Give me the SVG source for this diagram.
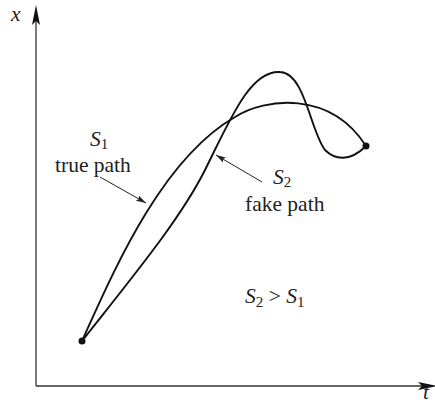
<svg xmlns="http://www.w3.org/2000/svg" width="435" height="406" viewBox="0 0 435 406">
<defs>
<style>
text{font-family:"Liberation Serif","Times New Roman",serif;fill:#222;font-size:21.5px}
.it{font-style:italic}
.sub{font-size:15px}
.axis{stroke:#333;stroke-width:1.3;fill:none}
.curve{stroke:#111;stroke-width:1.9;fill:none}
.ptr{stroke:#222;stroke-width:1;fill:none;marker-end:url(#small)}
</style>
<marker id="small" viewBox="0 0 10 6" refX="10" refY="3" markerWidth="10" markerHeight="6" markerUnits="userSpaceOnUse" orient="auto">
<path d="M0,0 L10,3 L0,6 L2,3 Z" fill="#222"/>
</marker>
</defs>
<g id="axes">
<line class="axis" x1="36" y1="386" x2="36" y2="20"/>
<path d="M36,5 L40,25 L36,21 L32,25 Z" fill="#111"/>
<line class="axis" x1="36" y1="386" x2="422" y2="386"/>
<path d="M438,386 L418,390 L422,386 L418,382 Z" fill="#111"/>
<text class="it" x="11" y="21">x</text>
<text class="it" x="423" y="399">t</text>
</g>
<g id="connectors">
<path id="true-path" class="curve" d="M82,341 C112,275 160,160 235,117 C265,98 330,90 366,146"/>
<path id="fake-path" class="curve" d="M82,341 C130,280 180,220 205,170 C230,120 250,70 280,72 C305,73 310,130 325,150 C335,160 350,162 366,146"/>
<line class="ptr" x1="100" y1="177" x2="146" y2="203"/>
<line class="ptr" x1="262" y1="182" x2="216" y2="155"/>
</g>
<g id="start"><circle cx="82" cy="341" r="3.5" fill="#111"/></g>
<g id="end"><circle cx="366" cy="146" r="3.5" fill="#111"/></g>
<g id="label-s1">
<text x="90" y="146"><tspan class="it">S</tspan><tspan class="sub" dy="3">1</tspan></text>
<text x="55" y="172">true path</text>
</g>
<g id="label-s2">
<text x="273" y="184"><tspan class="it">S</tspan><tspan class="sub" dy="3">2</tspan></text>
<text x="245" y="211">fake path</text>
</g>
<g id="label-ineq">
<text x="245" y="303"><tspan class="it">S</tspan><tspan class="sub" dy="4">2</tspan><tspan dy="-4"> &gt; </tspan><tspan class="it">S</tspan><tspan class="sub" dy="4">1</tspan></text>
</g>
</svg>
